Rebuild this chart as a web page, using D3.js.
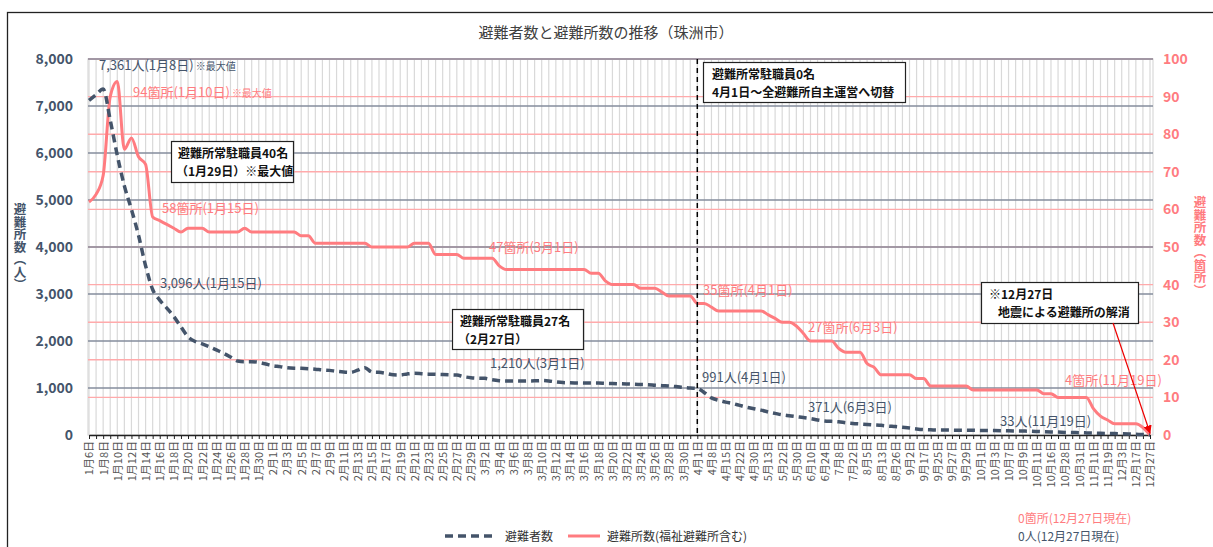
<!DOCTYPE html>
<html>
<head>
<meta charset="utf-8">
<script src="https://cdn.jsdelivr.net/npm/d3@7"></script>
<style>
  body { margin: 0; background: #fff; }
  svg { font-family: "Noto Sans CJK JP", "Noto Sans", sans-serif; }
</style>
</head>
<body>
<svg id="chart" width="1213" height="547"></svg>
<script>
// categories (irregular after April)
const dates = [
  '1月6日','1月7日','1月8日','1月9日','1月10日','1月11日','1月12日','1月13日','1月14日','1月15日',
  '1月16日','1月17日','1月18日','1月19日','1月20日','1月21日','1月22日','1月23日','1月24日','1月25日',
  '1月26日','1月27日','1月28日','1月29日','1月30日','1月31日',
  '2月1日','2月2日','2月3日','2月4日','2月5日','2月6日','2月7日','2月8日','2月9日','2月10日',
  '2月11日','2月12日','2月13日','2月14日','2月15日','2月16日','2月17日','2月18日','2月19日','2月20日',
  '2月21日','2月22日','2月23日','2月24日','2月25日','2月26日','2月27日','2月28日','2月29日',
  '3月1日','3月2日','3月3日','3月4日','3月5日','3月6日','3月7日','3月8日','3月9日','3月10日',
  '3月11日','3月12日','3月13日','3月14日','3月15日','3月16日','3月17日','3月18日','3月19日','3月20日',
  '3月21日','3月22日','3月23日','3月24日','3月25日','3月26日','3月27日','3月28日','3月29日','3月30日','3月31日',
  '4月1日','4月4日','4月8日','4月11日','4月15日','4月18日','4月22日','4月26日','4月30日',
  '5月7日','5月13日','5月17日','5月22日','5月27日','5月30日',
  '6月3日','6月10日','6月17日','6月24日',
  '7月1日','7月8日','7月15日','7月22日','7月29日',
  '8月5日','8月9日','8月13日','8月19日','8月26日','8月29日',
  '9月2日','9月10日','9月17日','9月21日','9月25日','9月26日','9月27日','9月28日','9月29日','9月30日',
  '10月1日','10月2日','10月3日','10月5日','10月7日','10月8日','10月9日','10月10日','10月11日','10月14日',
  '10月16日','10月21日','10月28日','10月30日','10月31日',
  '11月5日','11月11日','11月15日','11月19日','11月26日',
  '12月3日','12月10日','12月17日','12月24日','12月27日'
];

// 避難者数 (people)
const evacuees = [
  7120, 7240, 7361, 6700, 5950, 5300, 4800, 4250, 3600, 3096,
  2870, 2700, 2520, 2300, 2090, 1990, 1940, 1880, 1810, 1740,
  1660, 1575, 1560, 1560, 1545, 1510,
  1475, 1455, 1430, 1420, 1418, 1411, 1400, 1385, 1375, 1355,
  1340, 1333, 1380, 1433, 1340, 1333, 1310, 1280, 1277, 1300,
  1312, 1305, 1295, 1290, 1285, 1280, 1275, 1240, 1220,
  1210, 1205, 1175, 1156, 1150, 1150, 1148, 1150, 1152, 1158,
  1150, 1130, 1115, 1110, 1108, 1106, 1105, 1105, 1100, 1095,
  1090, 1085, 1080, 1075, 1071, 1060, 1050, 1043, 1030, 1014, 1000,
  991, 900, 790, 740, 700, 670, 630, 590, 560,
  530, 490, 460, 430, 410, 390,
  371, 350, 320, 300,
  290, 280, 260, 245, 235,
  225, 215, 205, 190, 180, 165,
  150, 130, 115, 110, 105, 105, 104, 103, 102, 100,
  98, 96, 95, 92, 88, 86, 84, 80, 75, 70,
  66, 62, 55, 52, 50,
  45, 40, 36, 33, 30,
  26, 22, 18, 10, 0
];

// 避難所数 (shelters)
const shelters = [
  62, 64, 69, 90, 94, 76, 79, 74, 72, 58,
  57, 56, 55, 54, 55, 55, 55, 54, 54, 54,
  54, 54, 55, 54, 54, 54,
  54, 54, 54, 54, 53, 53, 51, 51, 51, 51,
  51, 51, 51, 51, 50, 50, 50, 50, 50, 50,
  51, 51, 51, 48, 48, 48, 48, 47, 47,
  47, 47, 47, 45, 44, 44, 44, 44, 44, 44,
  44, 44, 44, 44, 44, 44, 43, 43, 41, 40,
  40, 40, 40, 39, 39, 39, 38, 37, 37, 37, 37,
  35, 35, 34, 33, 33, 33, 33, 33, 33,
  33, 32, 31, 30, 30, 29,
  27, 25, 25, 25,
  25, 23, 22, 22, 22,
  19, 18, 16, 16, 16, 16,
  16, 15, 15, 13, 13, 13, 13, 13, 13, 12,
  12, 12, 12, 12, 12, 12, 12, 12, 12, 11,
  11, 10, 10, 10, 10,
  10, 7, 5, 4, 3,
  3, 3, 3, 2, 0
];

const leftTicks = [0, 1000, 2000, 3000, 4000, 5000, 6000, 7000, 8000];
const rightTicks = [0, 10, 20, 30, 40, 50, 60, 70, 80, 90, 100];

const SLATE = '#44546a';
const RED = '#ff7c80';

const svg = d3.select('#chart');
const plotTop = 59, plotBottom = 435, plotLeft = 88, plotRight = 1153;

const x = d3.scalePoint().domain(dates).range([89, 1150]);
const yL = d3.scaleLinear().domain([0, 8000]).range([plotBottom, plotTop]);
const yR = d3.scaleLinear().domain([0, 100]).range([plotBottom, plotTop]);

// outer frame
svg.append('rect')
  .attr('x', 7.5).attr('y', 12.5).attr('width', 1220).attr('height', 560)
  .attr('fill', 'none').attr('stroke', '#222').attr('stroke-width', 1.3);

svg.append('text')
  .attr('x', 606).attr('y', 38)
  .attr('text-anchor', 'middle')
  .attr('font-size', 15).attr('fill', '#404040')
  .text('避難者数と避難所数の推移（珠洲市）');

// vertical grid
svg.append('g').selectAll('line').data(dates).join('line')
  .attr('x1', d => x(d)).attr('x2', d => x(d))
  .attr('y1', plotTop).attr('y2', plotBottom)
  .attr('stroke', '#d9d9d9').attr('stroke-width', 1.2);

svg.append('rect')
  .attr('x', plotLeft).attr('y', plotTop)
  .attr('width', plotRight - plotLeft).attr('height', plotBottom - plotTop)
  .attr('fill', 'none').attr('stroke', '#d9d9d9').attr('stroke-width', 1.2);

// right axis grid (pink)
svg.append('g').selectAll('line').data(rightTicks.filter(t => t > 0)).join('line')
  .attr('x1', plotLeft).attr('x2', plotRight)
  .attr('y1', d => yR(d)).attr('y2', d => yR(d))
  .attr('stroke', '#ffaaab').attr('stroke-width', 1.4);

// left axis grid (slate)
svg.append('g').selectAll('line').data(leftTicks.filter(t => t > 0)).join('line')
  .attr('x1', plotLeft).attr('x2', plotRight)
  .attr('y1', d => yL(d)).attr('y2', d => yL(d))
  .attr('stroke', '#848c9c').attr('stroke-width', 1.4);

// left tick labels
svg.append('g').selectAll('text').data(leftTicks).join('text')
  .attr('x', 73).attr('y', d => yL(d) + 5)
  .attr('text-anchor', 'end')
  .attr('font-size', 14).attr('font-weight', 600).attr('fill', SLATE)
  .text(d => d3.format(',')(d));

// right tick labels
svg.append('g').selectAll('text').data(rightTicks).join('text')
  .attr('x', 1163).attr('y', d => yR(d) + 5)
  .attr('font-size', 14).attr('font-weight', 600).attr('fill', RED)
  .text(d => d);

// axis titles (vertical writing)
svg.append('text')
  .attr('x', 20).attr('y', 247)
  .attr('text-anchor', 'middle')
  .style('writing-mode', 'vertical-rl')
  .attr('font-size', 12.5).attr('font-weight', 600).attr('fill', SLATE)
  .text('避難所数（人）');

svg.append('text')
  .attr('x', 1200).attr('y', 246)
  .attr('text-anchor', 'middle')
  .style('writing-mode', 'vertical-rl')
  .attr('font-size', 12.5).attr('font-weight', 600).attr('fill', RED)
  .text('避難所数（箇所）');

// x axis
const xAxis = svg.append('g')
  .attr('transform', `translate(0,${plotBottom})`)
  .call(d3.axisBottom(x).tickSize(4).tickSizeOuter(0)
    .tickFormat((d, i) => i % 2 === 0 ? d : ''));
xAxis.select('.domain').attr('stroke', '#222').attr('stroke-width', 1.5);
xAxis.selectAll('.tick line').attr('stroke', '#222');
xAxis.selectAll('.tick text')
  .attr('transform', 'rotate(-90)')
  .attr('text-anchor', 'end')
  .attr('x', -6).attr('y', 0).attr('dy', '0.35em')
  .attr('font-size', 11).attr('fill', '#555')
  .attr('font-family', '"Noto Sans CJK JP", sans-serif');

// series
const lineR = d3.line()
  .x((d, i) => x(dates[i]))
  .y(d => yR(d))
  .curve(d3.curveMonotoneX);

const lineL = d3.line()
  .x((d, i) => x(dates[i]))
  .y(d => yL(d))
  .curve(d3.curveMonotoneX);

svg.append('path')
  .datum(shelters)
  .attr('d', lineR)
  .attr('fill', 'none').attr('stroke', RED)
  .attr('stroke-width', 3).attr('stroke-linejoin', 'round');

svg.append('path')
  .datum(evacuees)
  .attr('d', lineL)
  .attr('fill', 'none').attr('stroke', SLATE)
  .attr('stroke-width', 3.5).attr('stroke-dasharray', '8,5');

// 4/1 switch line
svg.append('line')
  .attr('x1', x('4月1日')).attr('x2', x('4月1日'))
  .attr('y1', plotTop).attr('y2', plotBottom)
  .attr('stroke', '#000').attr('stroke-width', 1.5).attr('stroke-dasharray', '5,4');

// data labels
function label(txt, px, py, color, note) {
  const t = svg.append('text')
    .attr('x', px).attr('y', py)
    .attr('font-size', 13).attr('fill', color)
    .text(txt);
  if (note) {
    t.append('tspan').attr('font-size', 10).attr('dx', 2).text(note);
  }
}

label('7,361人(1月8日)', 99, 70, SLATE, '※最大値');
label('94箇所(1月10日)', 133, 97, RED, '※最大値');
label('58箇所(1月15日)', 162, 213, RED);
label('3,096人(1月15日)', 160, 288, SLATE);
label('47箇所(3月1日)', 489, 252, RED);
label('1,210人(3月1日)', 490, 368, SLATE);
label('35箇所(4月1日)', 703, 295, RED);
label('991人(4月1日)', 702, 382, SLATE);
label('27箇所(6月3日)', 808, 332, RED);
label('371人(6月3日)', 808, 412, SLATE);
label('4箇所(11月19日)', 1065, 385, RED);
label('33人(11月19日)', 1000, 426, SLATE);

// annotation boxes
function box(bx, by, bw, bh, lines, tx) {
  svg.append('rect')
    .attr('x', bx + 0.5).attr('y', by + 0.5).attr('width', bw).attr('height', bh)
    .attr('fill', '#fff').attr('stroke', '#222').attr('stroke-width', 1.2);
  lines.forEach((l, i) => {
    svg.append('text')
      .attr('x', tx[i]).attr('y', by + 17 + i * 18)
      .attr('font-size', 12).attr('font-weight', 600).attr('fill', '#111')
      .text(l);
  });
}

box(171, 141, 122, 41, ['避難所常駐職員40名', '（1月29日）※最大値'], [178, 176]);
box(452, 309, 131, 40, ['避難所常駐職員27名', '（2月27日）'], [460, 458]);
box(703, 62, 202, 40, ['避難所常駐職員0名', '4月1日～全避難所自主運営へ切替'], [712, 712]);
box(981, 282, 157, 41, ['※12月27日', '地震による避難所の解消'], [989, 998]);

// arrow to end
svg.append('defs').append('marker')
  .attr('id', 'arrow').attr('viewBox', '0 0 10 10')
  .attr('refX', 9).attr('refY', 5)
  .attr('markerWidth', 7).attr('markerHeight', 7)
  .attr('orient', 'auto')
  .append('path').attr('d', 'M0,0L10,5L0,10z').attr('fill', '#e00');

svg.append('line')
  .attr('x1', 1113).attr('y1', 323)
  .attr('x2', x('12月27日')).attr('y2', yR(0) - 2)
  .attr('stroke', '#e00').attr('stroke-width', 1.2)
  .attr('marker-end', 'url(#arrow)');

// legend
const legend = svg.append('g').attr('font-size', 12);
legend.append('line')
  .attr('x1', 445).attr('x2', 497).attr('y1', 536).attr('y2', 536)
  .attr('stroke', SLATE).attr('stroke-width', 3.5).attr('stroke-dasharray', '8,5');
legend.append('text').attr('x', 505).attr('y', 541).attr('fill', '#333').text('避難者数');
legend.append('line')
  .attr('x1', 568).attr('x2', 600).attr('y1', 536).attr('y2', 536)
  .attr('stroke', RED).attr('stroke-width', 3);
legend.append('text').attr('x', 607).attr('y', 541).attr('fill', '#333').text('避難所数(福祉避難所含む)');

svg.append('text').attr('x', 1018).attr('y', 523)
  .attr('font-size', 12).attr('fill', RED).text('0箇所(12月27日現在)');
svg.append('text').attr('x', 1018).attr('y', 541)
  .attr('font-size', 12).attr('fill', SLATE).text('0人(12月27日現在)');
</script>
</body>
</html>
